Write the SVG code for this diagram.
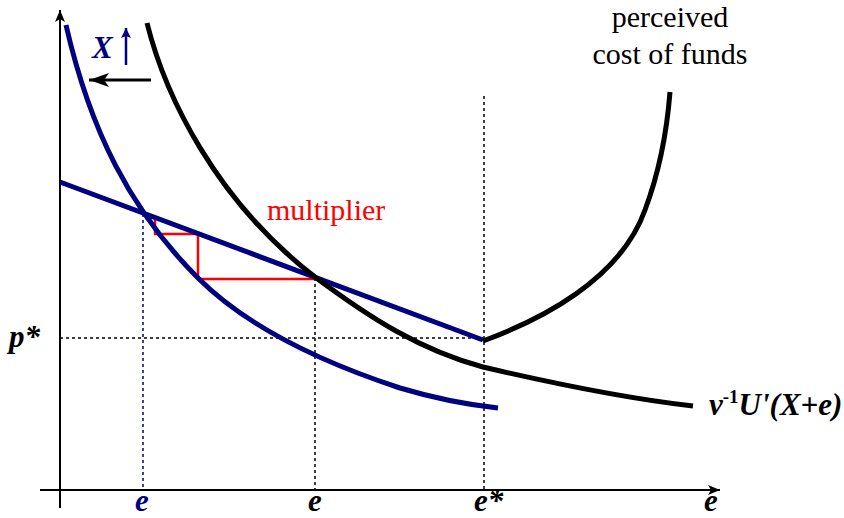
<svg xmlns="http://www.w3.org/2000/svg" width="844" height="518" viewBox="0 0 844 518">
<style>
.lbl{font-family:"Liberation Serif","Times New Roman",serif;font-weight:bold;font-style:italic;font-size:31px;fill:#000}
.txt{font-family:"Liberation Serif","Times New Roman",serif;font-size:30px;fill:#000}
.blue{stroke:#000080;fill:none;stroke-width:5}
.blk{stroke:#000;fill:none;stroke-width:5}
.dot{stroke:#000;fill:none;stroke-width:1.5;stroke-dasharray:3 3}
</style>
<defs>
<marker id="ah" viewBox="0 0 12 10" refX="12" refY="5" markerWidth="12" markerHeight="10" markerUnits="userSpaceOnUse" orient="auto"><path d="M0,0 L12,5 L0,10 L3,5 Z" fill="#000"/></marker>
<marker id="ahb" viewBox="0 0 20 14" refX="20" refY="7" markerWidth="20" markerHeight="14" markerUnits="userSpaceOnUse" orient="auto"><path d="M0,0 L20,7 L0,14 L5,7 Z" fill="#000"/></marker>
<marker id="ahu" viewBox="0 0 10 10" refX="10" refY="5" markerWidth="10" markerHeight="10" markerUnits="userSpaceOnUse" orient="auto"><path d="M0,0 L10,5 L0,10 L2,5 Z" fill="#000080"/></marker>
</defs>
<g id="axes">
<line x1="60" y1="508" x2="60" y2="10" stroke="#000" stroke-width="2" marker-end="url(#ah)"/>
<line x1="40" y1="490" x2="720" y2="490" stroke="#000" stroke-width="2" marker-end="url(#ah)"/>
</g>
<g id="guides">
<line x1="143" y1="214" x2="143" y2="490" stroke="#000080" stroke-width="1.5" stroke-dasharray="3 3"/>
<line class="dot" x1="315" y1="278" x2="315" y2="490"/>
<line class="dot" x1="484" y1="96" x2="484" y2="490"/>
<line class="dot" x1="60" y1="338" x2="484" y2="338"/>
</g>
<g id="multiplier-steps">
<path d="M145,218 H155 V234 H198 V279 H315" fill="none" stroke="#ff0000" stroke-width="2.5"/>
</g>
<g id="blue-curve"><path class="blue" d="M66,25 C90,130 130,210 198,278 C250,330 330,365 400,388 C440,400 470,405 498,408"/></g>
<g id="blue-line"><path class="blue" d="M60,182 L483,340"/></g>
<g id="marginal-utility"><path class="blk" d="M147,23 C165,95 215,200 315,277 C370,318 420,350 483,367 C560,385 640,400 693,406"/></g>
<g id="cost-of-funds"><path class="blk" d="M483,341 C540,320 620,280 645,210 C660,170 667,130 670,92"/></g>
<g id="shift">
<line x1="151" y1="80" x2="89" y2="80" stroke="#000" stroke-width="3" marker-end="url(#ahb)"/>
<line x1="126" y1="65" x2="126" y2="28" stroke="#000080" stroke-width="2.5" marker-end="url(#ahu)"/>
<text class="lbl" x="92" y="58" style="fill:#000080">X</text>
</g>
<g id="labels">
<text class="txt" x="670" y="27" text-anchor="middle">perceived</text>
<text class="txt" x="670" y="64" text-anchor="middle">cost of funds</text>
<text class="txt" x="267" y="220" style="fill:#ff0000">multiplier</text>
<text class="lbl" x="9" y="347">p*</text>
<text class="lbl" x="142" y="511" text-anchor="middle" style="fill:#000080">e</text>
<text class="lbl" x="315" y="511" text-anchor="middle">e</text>
<text class="lbl" x="474" y="511">e*</text>
<text class="lbl" x="711" y="511" text-anchor="middle">e</text>
<text class="lbl" x="709" y="415">v<tspan dy="-12" style="font-size:19px;font-style:normal">-1</tspan><tspan dy="12">U'(X+e)</tspan></text>
</g>
</svg>
